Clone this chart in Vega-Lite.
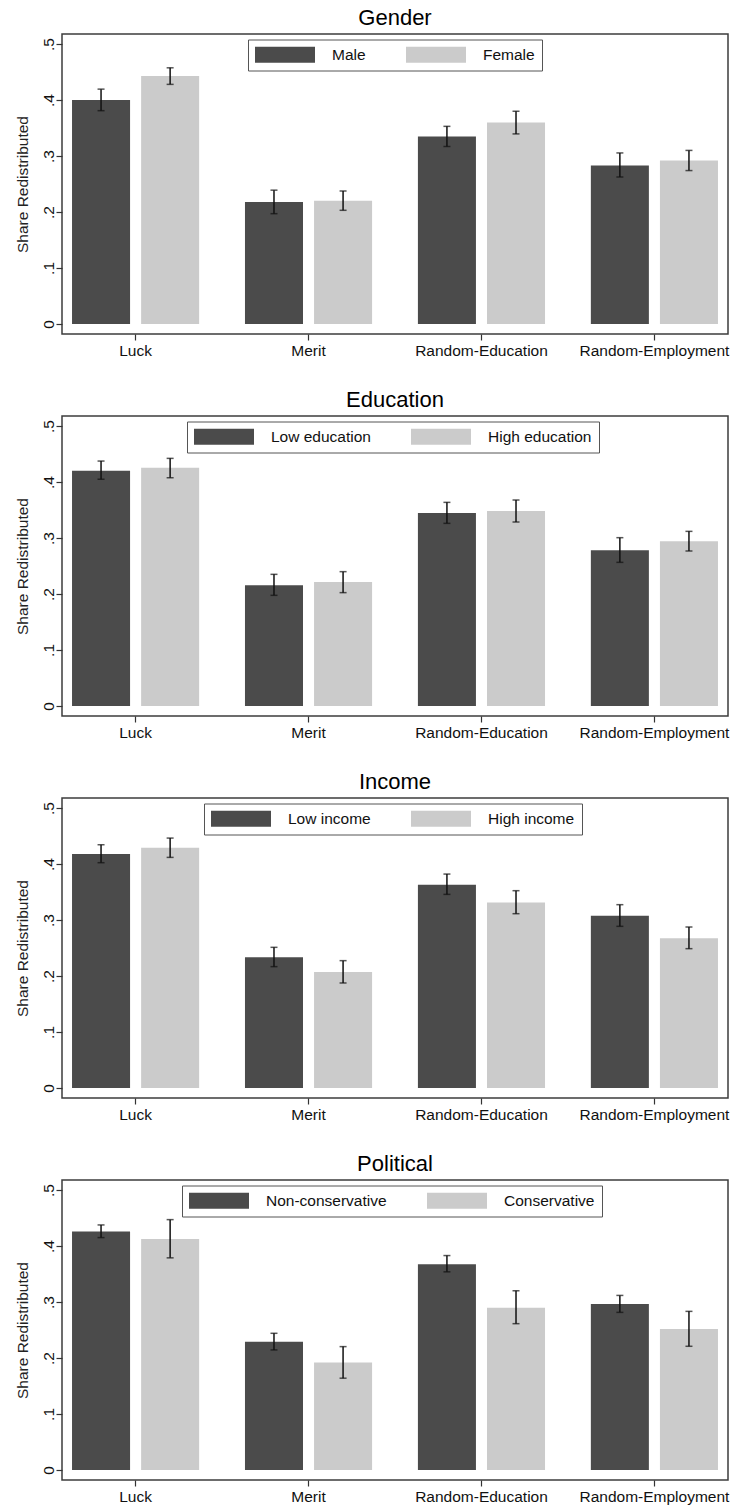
{
  "$schema": "https://vega.github.io/schema/vega-lite/v6.json",
  "padding": {"left": 14, "top": 6, "right": 2, "bottom": 2},
  "background": "white",
  "config": {
    "font": "Liberation Sans",
    "view": {"stroke": "#3c3c3c", "strokeWidth": 1.5},
    "concat": {"spacing": 28},
    "title": {"fontSize": 22, "fontWeight": "normal", "color": "#000", "offset": 4, "font": "Liberation Sans"},
    "axis": {"labelFont": "Liberation Sans", "titleFont": "Liberation Sans", "labelFontSize": 15.5, "titleFontSize": 15.5, "titleFontWeight": "normal", "labelColor": "#111", "titleColor": "#222", "tickColor": "#333", "tickWidth": 1.2, "grid": false, "domain": false},
    "legend": {"labelFont": "Liberation Sans", "labelFontSize": 15.5, "labelColor": "#111", "orient": "none", "direction": "horizontal", "columns": 2, "columnPadding": 40, "padding": 7, "strokeColor": "#555", "fillColor": "white", "symbolType": "M-3.75,-1H3.75V1H-3.75Z", "symbolSize": 256, "symbolOffset": 22, "labelOffset": 39, "symbolStrokeWidth": 0, "symbolOpacity": 1, "title": null}
  },
  "datasets": {
    "gender": [
      {"cat": "Luck", "grp": "Male", "mean": 0.400, "lo": 0.381, "hi": 0.4195},
      {"cat": "Luck", "grp": "Female", "mean": 0.443, "lo": 0.428, "hi": 0.4576},
      {"cat": "Merit", "grp": "Male", "mean": 0.218, "lo": 0.197, "hi": 0.239},
      {"cat": "Merit", "grp": "Female", "mean": 0.220, "lo": 0.203, "hi": 0.2375},
      {"cat": "Random-Education", "grp": "Male", "mean": 0.335, "lo": 0.317, "hi": 0.353},
      {"cat": "Random-Education", "grp": "Female", "mean": 0.360, "lo": 0.3395, "hi": 0.380},
      {"cat": "Random-Employment", "grp": "Male", "mean": 0.283, "lo": 0.2625, "hi": 0.3055},
      {"cat": "Random-Employment", "grp": "Female", "mean": 0.292, "lo": 0.274, "hi": 0.310}
    ],
    "education": [
      {"cat": "Luck", "grp": "Low education", "mean": 0.420, "lo": 0.405, "hi": 0.4375},
      {"cat": "Luck", "grp": "High education", "mean": 0.4256, "lo": 0.4077, "hi": 0.4423},
      {"cat": "Merit", "grp": "Low education", "mean": 0.2155, "lo": 0.1976, "hi": 0.2351},
      {"cat": "Merit", "grp": "High education", "mean": 0.2214, "lo": 0.2024, "hi": 0.2399},
      {"cat": "Random-Education", "grp": "Low education", "mean": 0.3446, "lo": 0.3262, "hi": 0.3637},
      {"cat": "Random-Education", "grp": "High education", "mean": 0.3482, "lo": 0.3286, "hi": 0.3679},
      {"cat": "Random-Employment", "grp": "Low education", "mean": 0.278, "lo": 0.2565, "hi": 0.3006},
      {"cat": "Random-Employment", "grp": "High education", "mean": 0.294, "lo": 0.2768, "hi": 0.3119}
    ],
    "income": [
      {"cat": "Luck", "grp": "Low income", "mean": 0.4179, "lo": 0.4024, "hi": 0.4345},
      {"cat": "Luck", "grp": "High income", "mean": 0.4292, "lo": 0.4119, "hi": 0.4464},
      {"cat": "Merit", "grp": "Low income", "mean": 0.2333, "lo": 0.2167, "hi": 0.2512},
      {"cat": "Merit", "grp": "High income", "mean": 0.2071, "lo": 0.1875, "hi": 0.2274},
      {"cat": "Random-Education", "grp": "Low income", "mean": 0.3631, "lo": 0.3458, "hi": 0.3821},
      {"cat": "Random-Education", "grp": "High income", "mean": 0.3315, "lo": 0.3113, "hi": 0.3524},
      {"cat": "Random-Employment", "grp": "Low income", "mean": 0.3077, "lo": 0.2887, "hi": 0.3274},
      {"cat": "Random-Employment", "grp": "High income", "mean": 0.2673, "lo": 0.2488, "hi": 0.2875}
    ],
    "political": [
      {"cat": "Luck", "grp": "Non-conservative", "mean": 0.4258, "lo": 0.4151, "hi": 0.4377},
      {"cat": "Luck", "grp": "Conservative", "mean": 0.4127, "lo": 0.3789, "hi": 0.4472},
      {"cat": "Merit", "grp": "Non-conservative", "mean": 0.2292, "lo": 0.2144, "hi": 0.2441},
      {"cat": "Merit", "grp": "Conservative", "mean": 0.1918, "lo": 0.1639, "hi": 0.2203},
      {"cat": "Random-Education", "grp": "Non-conservative", "mean": 0.3676, "lo": 0.3539, "hi": 0.383},
      {"cat": "Random-Education", "grp": "Conservative", "mean": 0.2898, "lo": 0.2613, "hi": 0.3201},
      {"cat": "Random-Employment", "grp": "Non-conservative", "mean": 0.2963, "lo": 0.2815, "hi": 0.3118},
      {"cat": "Random-Employment", "grp": "Conservative", "mean": 0.2518, "lo": 0.2209, "hi": 0.2833}
    ]
  },
  "resolve": {"scale": {"color": "independent", "xOffset": "independent", "x": "independent", "y": "independent"}, "legend": {"color": "independent"}},
  "vconcat": [
    {
      "title": "Gender",
      "width": 666, "height": 300,
      "data": {"name": "gender"},
      "encoding": {
        "x": {"field": "cat", "type": "nominal", "sort": ["Luck", "Merit", "Random-Education", "Random-Employment"], "scale": {"type": "band", "paddingInner": 0.265, "paddingOuter": 0.058}, "axis": {"title": null, "labelAngle": 0, "tickSize": 6, "labelPadding": 3, "bandPosition": 0.5}},
        "xOffset": {"field": "grp", "type": "nominal", "sort": ["Male", "Female"], "scale": {"type": "band", "paddingInner": 0.16, "paddingOuter": 0}}
      },
      "layer": [
        {"mark": {"type": "bar"}, "encoding": {
          "y": {"field": "mean", "type": "quantitative", "title": "Share Redistributed", "scale": {"domain": [-0.018, 0.518], "nice": false, "zero": false}, "axis": {"values": [0, 0.1, 0.2, 0.3, 0.4, 0.5], "labelExpr": "datum.value == 0 ? '0' : replace(format(datum.value, '.1f'), '0.', '.')", "labelAngle": -90, "labelAlign": "center", "labelBaseline": "alphabetic", "tickSize": 6, "labelPadding": 3, "titlePadding": 11}},
          "y2": {"datum": 0},
          "color": {"field": "grp", "type": "nominal", "scale": {"domain": ["Male", "Female"], "range": ["#4b4b4b", "#cbcbcb"]}, "legend": {"legendX": 186, "legendY": 5.5}}
        }},
        {"mark": {"type": "rule", "color": "#111", "strokeWidth": 1.5}, "encoding": {"y": {"field": "lo", "type": "quantitative", "title": "Share Redistributed"}, "y2": {"field": "hi"}}},
        {"mark": {"type": "tick", "color": "#111", "size": 7, "thickness": 1.5}, "encoding": {"y": {"field": "lo", "type": "quantitative", "title": "Share Redistributed"}}},
        {"mark": {"type": "tick", "color": "#111", "size": 7, "thickness": 1.5}, "encoding": {"y": {"field": "hi", "type": "quantitative", "title": "Share Redistributed"}}}
      ]
    },
    {
      "title": "Education",
      "width": 666, "height": 300,
      "data": {"name": "education"},
      "encoding": {
        "x": {"field": "cat", "type": "nominal", "sort": ["Luck", "Merit", "Random-Education", "Random-Employment"], "scale": {"type": "band", "paddingInner": 0.265, "paddingOuter": 0.058}, "axis": {"title": null, "labelAngle": 0, "tickSize": 6, "labelPadding": 3, "bandPosition": 0.5}},
        "xOffset": {"field": "grp", "type": "nominal", "sort": ["Low education", "High education"], "scale": {"type": "band", "paddingInner": 0.16, "paddingOuter": 0}}
      },
      "layer": [
        {"mark": {"type": "bar"}, "encoding": {
          "y": {"field": "mean", "type": "quantitative", "title": "Share Redistributed", "scale": {"domain": [-0.018, 0.518], "nice": false, "zero": false}, "axis": {"values": [0, 0.1, 0.2, 0.3, 0.4, 0.5], "labelExpr": "datum.value == 0 ? '0' : replace(format(datum.value, '.1f'), '0.', '.')", "labelAngle": -90, "labelAlign": "center", "labelBaseline": "alphabetic", "tickSize": 6, "labelPadding": 3, "titlePadding": 11}},
          "y2": {"datum": 0},
          "color": {"field": "grp", "type": "nominal", "scale": {"domain": ["Low education", "High education"], "range": ["#4b4b4b", "#cbcbcb"]}, "legend": {"legendX": 125, "legendY": 5.5}}
        }},
        {"mark": {"type": "rule", "color": "#111", "strokeWidth": 1.5}, "encoding": {"y": {"field": "lo", "type": "quantitative", "title": "Share Redistributed"}, "y2": {"field": "hi"}}},
        {"mark": {"type": "tick", "color": "#111", "size": 7, "thickness": 1.5}, "encoding": {"y": {"field": "lo", "type": "quantitative", "title": "Share Redistributed"}}},
        {"mark": {"type": "tick", "color": "#111", "size": 7, "thickness": 1.5}, "encoding": {"y": {"field": "hi", "type": "quantitative", "title": "Share Redistributed"}}}
      ]
    },
    {
      "title": "Income",
      "width": 666, "height": 300,
      "data": {"name": "income"},
      "encoding": {
        "x": {"field": "cat", "type": "nominal", "sort": ["Luck", "Merit", "Random-Education", "Random-Employment"], "scale": {"type": "band", "paddingInner": 0.265, "paddingOuter": 0.058}, "axis": {"title": null, "labelAngle": 0, "tickSize": 6, "labelPadding": 3, "bandPosition": 0.5}},
        "xOffset": {"field": "grp", "type": "nominal", "sort": ["Low income", "High income"], "scale": {"type": "band", "paddingInner": 0.16, "paddingOuter": 0}}
      },
      "layer": [
        {"mark": {"type": "bar"}, "encoding": {
          "y": {"field": "mean", "type": "quantitative", "title": "Share Redistributed", "scale": {"domain": [-0.018, 0.518], "nice": false, "zero": false}, "axis": {"values": [0, 0.1, 0.2, 0.3, 0.4, 0.5], "labelExpr": "datum.value == 0 ? '0' : replace(format(datum.value, '.1f'), '0.', '.')", "labelAngle": -90, "labelAlign": "center", "labelBaseline": "alphabetic", "tickSize": 6, "labelPadding": 3, "titlePadding": 11}},
          "y2": {"datum": 0},
          "color": {"field": "grp", "type": "nominal", "scale": {"domain": ["Low income", "High income"], "range": ["#4b4b4b", "#cbcbcb"]}, "legend": {"legendX": 142, "legendY": 5.5}}
        }},
        {"mark": {"type": "rule", "color": "#111", "strokeWidth": 1.5}, "encoding": {"y": {"field": "lo", "type": "quantitative", "title": "Share Redistributed"}, "y2": {"field": "hi"}}},
        {"mark": {"type": "tick", "color": "#111", "size": 7, "thickness": 1.5}, "encoding": {"y": {"field": "lo", "type": "quantitative", "title": "Share Redistributed"}}},
        {"mark": {"type": "tick", "color": "#111", "size": 7, "thickness": 1.5}, "encoding": {"y": {"field": "hi", "type": "quantitative", "title": "Share Redistributed"}}}
      ]
    },
    {
      "title": "Political",
      "width": 666, "height": 300,
      "data": {"name": "political"},
      "encoding": {
        "x": {"field": "cat", "type": "nominal", "sort": ["Luck", "Merit", "Random-Education", "Random-Employment"], "scale": {"type": "band", "paddingInner": 0.265, "paddingOuter": 0.058}, "axis": {"title": null, "labelAngle": 0, "tickSize": 6, "labelPadding": 3, "bandPosition": 0.5}},
        "xOffset": {"field": "grp", "type": "nominal", "sort": ["Non-conservative", "Conservative"], "scale": {"type": "band", "paddingInner": 0.16, "paddingOuter": 0}}
      },
      "layer": [
        {"mark": {"type": "bar"}, "encoding": {
          "y": {"field": "mean", "type": "quantitative", "title": "Share Redistributed", "scale": {"domain": [-0.018, 0.518], "nice": false, "zero": false}, "axis": {"values": [0, 0.1, 0.2, 0.3, 0.4, 0.5], "labelExpr": "datum.value == 0 ? '0' : replace(format(datum.value, '.1f'), '0.', '.')", "labelAngle": -90, "labelAlign": "center", "labelBaseline": "alphabetic", "tickSize": 6, "labelPadding": 3, "titlePadding": 11}},
          "y2": {"datum": 0},
          "color": {"field": "grp", "type": "nominal", "scale": {"domain": ["Non-conservative", "Conservative"], "range": ["#4b4b4b", "#cbcbcb"]}, "legend": {"legendX": 120, "legendY": 5.5}}
        }},
        {"mark": {"type": "rule", "color": "#111", "strokeWidth": 1.5}, "encoding": {"y": {"field": "lo", "type": "quantitative", "title": "Share Redistributed"}, "y2": {"field": "hi"}}},
        {"mark": {"type": "tick", "color": "#111", "size": 7, "thickness": 1.5}, "encoding": {"y": {"field": "lo", "type": "quantitative", "title": "Share Redistributed"}}},
        {"mark": {"type": "tick", "color": "#111", "size": 7, "thickness": 1.5}, "encoding": {"y": {"field": "hi", "type": "quantitative", "title": "Share Redistributed"}}}
      ]
    }
  ]
}
